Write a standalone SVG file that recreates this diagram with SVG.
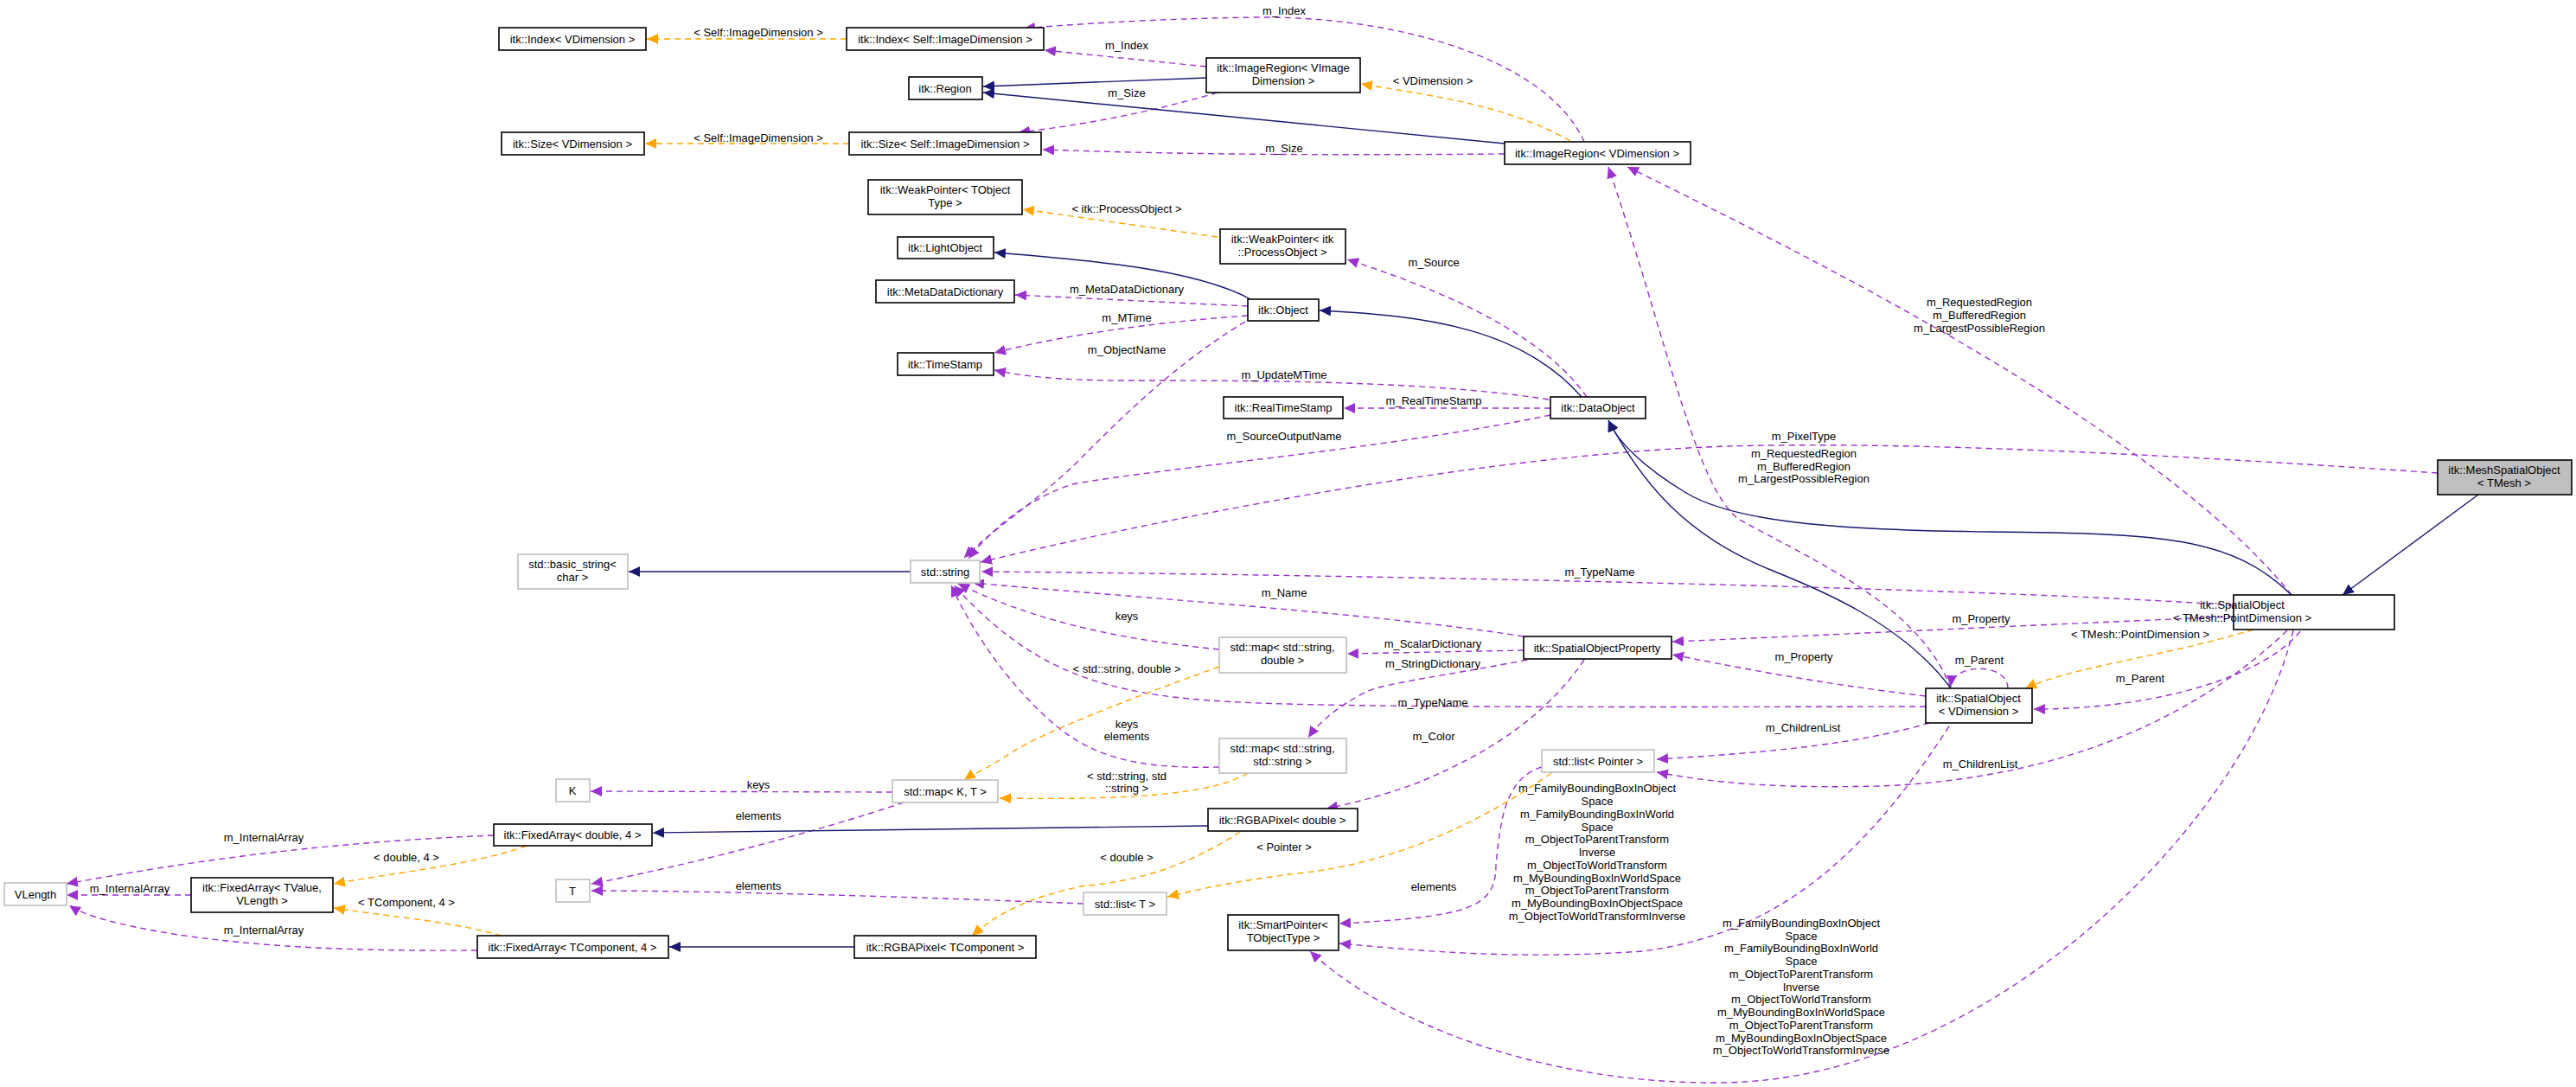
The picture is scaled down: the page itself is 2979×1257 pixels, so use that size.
<svg xmlns="http://www.w3.org/2000/svg" width="2979" height="1257" viewBox="0 0 2979 1257">
<style>
text{font-family:"Liberation Sans",Arial,sans-serif;font-size:13px;fill:#000}
.n rect{fill:#fff;stroke:#000;stroke-width:1.6}
.g rect{fill:#fff;stroke:#bfbfbf;stroke-width:1.6}
.c text{text-anchor:middle}
.n text,.g text{text-anchor:middle}
.p{fill:none;stroke:#9a32cd;stroke-width:1.4;stroke-dasharray:7,5;marker-end:url(#mp)}
.o{fill:none;stroke:#ffa500;stroke-width:1.4;stroke-dasharray:7,5;marker-end:url(#mo)}
.b{fill:none;stroke:#191970;stroke-width:1.4;marker-end:url(#mb)}
</style>
<defs>
<marker id="mp" markerUnits="userSpaceOnUse" markerWidth="14" markerHeight="12" refX="13" refY="6" orient="auto"><path d="M0,0L13,6L0,12z" fill="#9a32cd"/></marker>
<marker id="mo" markerUnits="userSpaceOnUse" markerWidth="14" markerHeight="12" refX="13" refY="6" orient="auto"><path d="M0,0L13,6L0,12z" fill="#ffa500"/></marker>
<marker id="mb" markerUnits="userSpaceOnUse" markerWidth="14" markerHeight="12" refX="13" refY="6" orient="auto"><path d="M0,0L13,6L0,12z" fill="#191970"/></marker>
</defs>
<rect width="2979" height="1257" fill="#fff"/>
<g id="connectors" class="c">
<path class="p" d="M1832,164 C1790,70 1620,18 1450,20 C1330,22 1240,28 1184,33"/><text x="1485" y="17">m_Index</text>
<path class="p" d="M1395,77 L1208,58"/><text x="1303" y="57">m_Index</text>
<path class="p" d="M1408,107 C1330,130 1250,145 1178,153"/><text x="1303" y="112">m_Size</text>
<path class="p" d="M1740,178 C1500,180 1350,178 1206,173"/><text x="1485" y="176">m_Size</text>
<path class="p" d="M1443,354 L1174,341"/><text x="1303" y="339">m_MetaDataDictionary</text>
<path class="p" d="M1443,365 C1300,375 1200,395 1150,408"/><text x="1303" y="372">m_MTime</text>
<path class="p" d="M1440,372 C1360,420 1300,480 1250,530 C1200,580 1150,610 1115,645"/><text x="1303" y="409">m_ObjectName</text>
<path class="p" d="M1835,459 C1780,380 1650,330 1558,300"/><text x="1658" y="308">m_Source</text>
<path class="p" d="M1791,462 C1650,440 1450,440 1300,440 C1230,440 1180,435 1150,428"/><text x="1485" y="438">m_UpdateMTime</text>
<path class="p" d="M1793,472 L1554,472"/><text x="1658" y="468">m_RealTimeStamp</text>
<path class="p" d="M1793,480 C1600,520 1350,540 1240,560 C1180,580 1140,620 1120,646"/><text x="1485" y="509">m_SourceOutputName</text>
<path class="p" d="M2819,547 C2500,525 2200,510 2000,516 C1700,525 1300,610 1134,650"/><text x="2086" y="509">m_PixelType</text>
<path class="p" d="M2583,700 C2300,680 1600,665 1135,661"/><text x="1850" y="666">m_TypeName</text>
<path class="p" d="M1762,736 C1600,710 1300,690 1125,674"/><text x="1485" y="690">m_Name</text>
<path class="p" d="M1410,751 C1300,740 1200,720 1108,675"/><text x="1303" y="717">keys</text>
<path class="p" d="M1762,752 L1558,756"/><text x="1657" y="749">m_ScalarDictionary</text>
<path class="p" d="M1766,763 C1680,780 1600,790 1580,800 C1550,815 1525,835 1513,853"/><text x="1657" y="772">m_StringDictionary</text>
<path class="p" d="M2227,817 C1800,818 1500,818 1400,810 C1250,800 1180,760 1103,677"/><text x="1657" y="817">m_TypeName</text>
<path class="p" d="M1410,887 C1300,890 1250,870 1200,820 C1150,770 1120,720 1100,677"/><text x="1303" y="842">keys</text><text x="1303" y="856">elements</text>
<path class="p" d="M1832,763 C1780,840 1700,880 1640,905 C1600,920 1560,930 1534,935"/><text x="1658" y="856">m_Color</text>
<path class="p" d="M1032,916 L683,915"/><text x="877" y="912">keys</text>
<path class="p" d="M1045,928 C950,960 800,1000 684,1022"/><text x="877" y="948">elements</text>
<path class="p" d="M1253,1045 C1000,1035 800,1030 684,1030"/><text x="877" y="1029">elements</text>
<path class="p" d="M571,966 C350,975 200,1000 77,1022"/><text x="305" y="973">m_InternalArray</text>
<path class="p" d="M221,1035 L77,1035"/><text x="150" y="1032">m_InternalArray</text>
<path class="p" d="M552,1099 C400,1100 300,1095 200,1080 C140,1070 100,1060 80,1047"/><text x="305" y="1080">m_InternalArray</text>
<path class="p" d="M1783,887 C1740,900 1735,950 1730,1000 C1730,1050 1700,1060 1549,1068"/><text x="1658" y="1030">elements</text>
<path class="p" d="M2254,840 C2150,1000 2050,1080 1900,1100 C1750,1110 1650,1100 1549,1091"/>
<text x="1847" y="916">m_FamilyBoundingBoxInObject</text><text x="1847" y="931">Space</text><text x="1847" y="946">m_FamilyBoundingBoxInWorld</text><text x="1847" y="961">Space</text><text x="1847" y="975">m_ObjectToParentTransform</text><text x="1847" y="990">Inverse</text><text x="1847" y="1005">m_ObjectToWorldTransform</text><text x="1847" y="1020">m_MyBoundingBoxInWorldSpace</text><text x="1847" y="1034">m_ObjectToParentTransform</text><text x="1847" y="1049">m_MyBoundingBoxInObjectSpace</text><text x="1847" y="1064">m_ObjectToWorldTransformInverse</text>
<path class="p" d="M2652,729 C2600,950 2300,1250 1990,1252 C1780,1254 1600,1180 1515,1100"/>
<text x="2083" y="1072">m_FamilyBoundingBoxInObject</text><text x="2083" y="1087">Space</text><text x="2083" y="1101">m_FamilyBoundingBoxInWorld</text><text x="2083" y="1116">Space</text><text x="2083" y="1131">m_ObjectToParentTransform</text><text x="2083" y="1146">Inverse</text><text x="2083" y="1160">m_ObjectToWorldTransform</text><text x="2083" y="1175">m_MyBoundingBoxInWorldSpace</text><text x="2083" y="1190">m_ObjectToParentTransform</text><text x="2083" y="1205">m_MyBoundingBoxInObjectSpace</text><text x="2083" y="1219">m_ObjectToWorldTransformInverse</text>
<path class="p" d="M2231,836 C2150,860 2050,870 1916,878"/><text x="2085" y="846">m_ChildrenList</text>
<path class="p" d="M2645,729 C2550,820 2400,900 2174,909 C2050,912 1980,905 1916,893"/><text x="2290" y="888">m_ChildrenList</text>
<path class="p" d="M2583,713 C2300,725 2100,735 1934,742"/><text x="2291" y="720">m_Property</text>
<path class="p" d="M2227,805 C2100,790 2000,770 1934,757"/><text x="2086" y="764">m_Property</text>
<path class="p" d="M2322,796 C2322,766 2258,766 2256,794"/><text x="2289" y="768">m_Parent</text>
<path class="p" d="M2660,730 C2620,780 2500,820 2352,820"/><text x="2475" y="789">m_Parent</text>
<path class="p" d="M2256,796 C2220,700 2100,650 2010,600 C1960,560 1930,400 1860,193"/><text x="2086" y="529">m_RequestedRegion</text><text x="2086" y="544">m_BufferedRegion</text><text x="2086" y="558">m_LargestPossibleRegion</text>
<path class="p" d="M2650,688 C2500,500 2100,300 1882,193"/><text x="2289" y="354">m_RequestedRegion</text><text x="2289" y="369">m_BufferedRegion</text><text x="2289" y="384">m_LargestPossibleRegion</text>
<path class="o" d="M979,45 L748,45"/><text x="877" y="42">&lt; Self::ImageDimension &gt;</text>
<path class="o" d="M982,166 L746,166"/><text x="877" y="164">&lt; Self::ImageDimension &gt;</text>
<path class="o" d="M1816,163 C1740,120 1650,110 1574,97"/><text x="1657" y="98">&lt; VDimension &gt;</text>
<path class="o" d="M1408,274 L1183,242"/><text x="1303" y="246">&lt; itk::ProcessObject &gt;</text>
<path class="o" d="M1410,771 C1300,810 1200,850 1170,870 C1140,890 1125,895 1115,902"/><text x="1303" y="778">&lt; std::string, double &gt;</text>
<path class="o" d="M1443,894 C1400,920 1300,925 1156,923"/><text x="1303" y="902">&lt; std::string, std</text><text x="1303" y="916">::string &gt;</text>
<path class="o" d="M609,978 C550,1000 450,1010 386,1022"/><text x="470" y="996">&lt; double, 4 &gt;</text>
<path class="o" d="M580,1082 C520,1065 450,1060 386,1050"/><text x="470" y="1048">&lt; TComponent, 4 &gt;</text>
<path class="o" d="M1434,962 C1360,1010 1300,1020 1250,1025 C1180,1040 1150,1060 1124,1082"/><text x="1303" y="996">&lt; double &gt;</text>
<path class="o" d="M1794,894 C1700,960 1600,1000 1500,1010 C1420,1020 1380,1030 1350,1037"/><text x="1485" y="984">&lt; Pointer &gt;</text>
<path class="o" d="M2606,728 C2500,760 2400,770 2342,796"/><text x="2475" y="738">&lt; TMesh::PointDimension &gt;</text>
<path class="b" d="M1395,90 L1137,100"/>
<path class="b" d="M1740,166 L1137,107"/>
<path class="b" d="M1446,346 C1380,310 1250,300 1150,292"/>
<path class="b" d="M1829,459 C1760,380 1650,365 1526,359"/>
<path class="b" d="M1053,661 L727,661"/>
<path class="b" d="M1397,955 L755,963"/>
<path class="b" d="M988,1095 L774,1095"/>
<path class="b" d="M2866,572 L2709,688"/>
<path class="b" d="M2650,688 C2580,620 2500,617 2300,615 C2100,613 2000,600 1950,570 C1900,540 1870,510 1860,486"/>
<path class="b" d="M2256,796 C2200,720 2100,680 2050,660 C1950,620 1900,560 1860,486"/>
</g>
<g id="n1" class="n"><rect x="577" y="32" width="170" height="26"/><text x="662" y="50">itk::Index&lt; VDimension &gt;</text></g>
<g id="n2" class="n"><rect x="979" y="32" width="228" height="26"/><text x="1093" y="50">itk::Index&lt; Self::ImageDimension &gt;</text></g>
<g id="n3" class="n"><rect x="1395" y="67" width="178" height="40"/><text x="1484" y="83">itk::ImageRegion&lt; VImage</text><text x="1484" y="98">Dimension &gt;</text></g>
<g id="n4" class="n"><rect x="1051" y="89" width="85" height="26"/><text x="1093" y="107">itk::Region</text></g>
<g id="n5" class="n"><rect x="580" y="153" width="165" height="26"/><text x="662" y="171">itk::Size&lt; VDimension &gt;</text></g>
<g id="n6" class="n"><rect x="982" y="153" width="222" height="26"/><text x="1093" y="171">itk::Size&lt; Self::ImageDimension &gt;</text></g>
<g id="n7" class="n"><rect x="1740" y="164" width="215" height="26"/><text x="1847" y="182">itk::ImageRegion&lt; VDimension &gt;</text></g>
<g id="n8" class="n"><rect x="1004" y="208" width="178" height="40"/><text x="1093" y="224">itk::WeakPointer&lt; TObject</text><text x="1093" y="239">Type &gt;</text></g>
<g id="n9" class="n"><rect x="1411" y="265" width="145" height="40"/><text x="1483" y="281">itk::WeakPointer&lt; itk</text><text x="1483" y="296">::ProcessObject &gt;</text></g>
<g id="n10" class="n"><rect x="1038" y="274" width="111" height="25"/><text x="1093" y="291">itk::LightObject</text></g>
<g id="n11" class="n"><rect x="1013" y="324" width="160" height="26"/><text x="1093" y="342">itk::MetaDataDictionary</text></g>
<g id="n12" class="n"><rect x="1443" y="346" width="82" height="25"/><text x="1484" y="363">itk::Object</text></g>
<g id="n13" class="n"><rect x="1038" y="408" width="111" height="26"/><text x="1093" y="426">itk::TimeStamp</text></g>
<g id="n14" class="n"><rect x="1415" y="459" width="138" height="25"/><text x="1484" y="476">itk::RealTimeStamp</text></g>
<g id="n15" class="n"><rect x="1793" y="459" width="110" height="25"/><text x="1848" y="476">itk::DataObject</text></g>
<g id="n16"><rect x="2819" y="532" width="155" height="40" fill="#bfbfbf" stroke="#000" stroke-width="1.6"/><text x="2896" y="548" text-anchor="middle">itk::MeshSpatialObject</text><text x="2896" y="563" text-anchor="middle">&lt; TMesh &gt;</text></g>
<g id="n17" class="g"><rect x="599" y="641" width="127" height="40"/><text x="662" y="657">std::basic_string&lt;</text><text x="662" y="672">char &gt;</text></g>
<g id="n18" class="g"><rect x="1053" y="648" width="80" height="26"/><text x="1093" y="666">std::string</text></g>
<g id="n19" class="n"><rect x="2583" y="688" width="186" height="40"/><text x="2593" y="704" text-anchor="start">itk::SpatialObject</text><text x="2593" y="719" text-anchor="start">&lt; TMesh::PointDimension &gt;</text></g>
<g id="n20" class="g"><rect x="1410" y="737" width="147" height="41"/><text x="1483" y="753">std::map&lt; std::string,</text><text x="1483" y="768">double &gt;</text></g>
<g id="n21" class="n"><rect x="1762" y="736" width="171" height="26"/><text x="1847" y="754">itk::SpatialObjectProperty</text></g>
<g id="n22" class="n"><rect x="2227" y="796" width="123" height="40"/><text x="2288" y="812">itk::SpatialObject</text><text x="2288" y="827">&lt; VDimension &gt;</text></g>
<g id="n23" class="g"><rect x="1410" y="854" width="147" height="40"/><text x="1483" y="870">std::map&lt; std::string,</text><text x="1483" y="885">std::string &gt;</text></g>
<g id="n24" class="g"><rect x="1783" y="867" width="130" height="26"/><text x="1848" y="885">std::list&lt; Pointer &gt;</text></g>
<g id="n25" class="g"><rect x="643" y="901" width="39" height="26"/><text x="662" y="919">K</text></g>
<g id="n26" class="g"><rect x="1032" y="902" width="122" height="26"/><text x="1093" y="920">std::map&lt; K, T &gt;</text></g>
<g id="n27" class="n"><rect x="1397" y="935" width="173" height="26"/><text x="1483" y="953">itk::RGBAPixel&lt; double &gt;</text></g>
<g id="n28" class="n"><rect x="571" y="953" width="183" height="25"/><text x="662" y="970">itk::FixedArray&lt; double, 4 &gt;</text></g>
<g id="n29" class="g"><rect x="643" y="1017" width="39" height="26"/><text x="662" y="1035">T</text></g>
<g id="n30" class="g"><rect x="5" y="1021" width="72" height="26"/><text x="41" y="1039">VLength</text></g>
<g id="n31" class="n"><rect x="221" y="1015" width="164" height="40"/><text x="303" y="1031">itk::FixedArray&lt; TValue,</text><text x="303" y="1046">VLength &gt;</text></g>
<g id="n32" class="g"><rect x="1253" y="1032" width="96" height="26"/><text x="1301" y="1050">std::list&lt; T &gt;</text></g>
<g id="n33" class="n"><rect x="1420" y="1058" width="128" height="41"/><text x="1484" y="1074">itk::SmartPointer&lt;</text><text x="1484" y="1089">TObjectType &gt;</text></g>
<g id="n34" class="n"><rect x="552" y="1082" width="221" height="26"/><text x="662" y="1100">itk::FixedArray&lt; TComponent, 4 &gt;</text></g>
<g id="n35" class="n"><rect x="988" y="1082" width="210" height="26"/><text x="1093" y="1100">itk::RGBAPixel&lt; TComponent &gt;</text></g>
</svg>
